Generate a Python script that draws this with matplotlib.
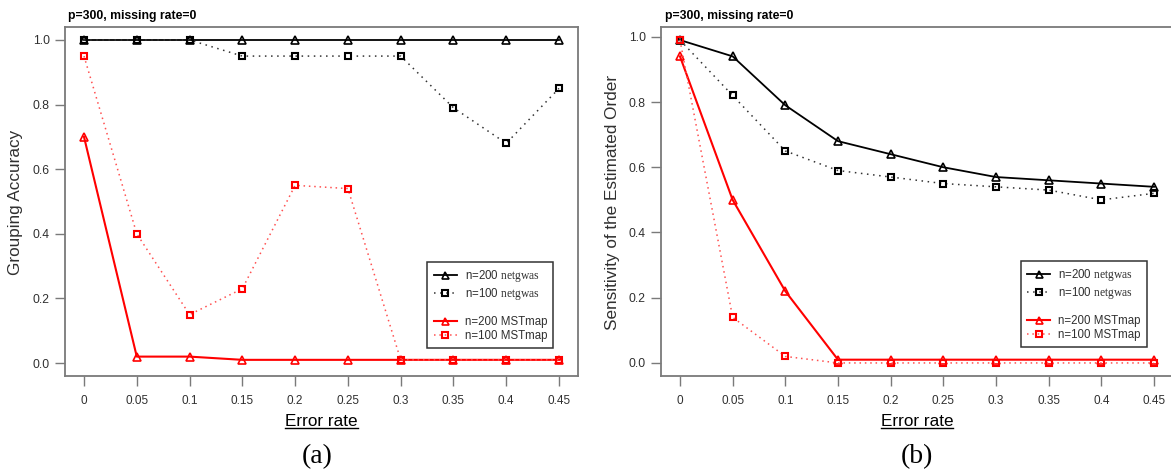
import matplotlib
matplotlib.use("Agg")
import matplotlib.pyplot as plt
from matplotlib.lines import Line2D

plt.rcParams['font.family'] = ['Liberation Sans', 'DejaVu Sans']
plt.rcParams['mathtext.fontset'] = 'custom'
plt.rcParams['mathtext.rm'] = 'Liberation Serif'

# ---------------- data ----------------
error_rate = [0, 0.05, 0.1, 0.15, 0.2, 0.25, 0.3, 0.35, 0.4, 0.45]
xtick_labels = ["0", "0.05", "0.1", "0.15", "0.2", "0.25", "0.3", "0.35", "0.4", "0.45"]
ytick_vals = [0.0, 0.2, 0.4, 0.6, 0.8, 1.0]

# (a) Grouping accuracy
a_n200_netgwas = [1.00, 1.00, 1.00, 1.00, 1.00, 1.00, 1.00, 1.00, 1.00, 1.00]
a_n100_netgwas = [1.00, 1.00, 1.00, 0.95, 0.95, 0.95, 0.95, 0.79, 0.68, 0.85]
a_n200_mstmap = [0.70, 0.02, 0.02, 0.01, 0.01, 0.01, 0.01, 0.01, 0.01, 0.01]
a_n100_mstmap = [0.95, 0.40, 0.15, 0.23, 0.55, 0.54, 0.01, 0.01, 0.01, 0.01]

# (b) Sensitivity of the estimated order
b_n200_netgwas = [0.99, 0.94, 0.79, 0.68, 0.64, 0.60, 0.57, 0.56, 0.55, 0.54]
b_n100_netgwas = [0.99, 0.82, 0.65, 0.59, 0.57, 0.55, 0.54, 0.53, 0.50, 0.52]
b_n200_mstmap = [0.94, 0.50, 0.22, 0.01, 0.01, 0.01, 0.01, 0.01, 0.01, 0.01]
b_n100_mstmap = [0.99, 0.14, 0.02, 0.00, 0.00, 0.00, 0.00, 0.00, 0.00, 0.00]

labels = [r"n=200 $\mathrm{netgwas}$", r"n=100 $\mathrm{netgwas}$", " ",
          "n=200 MSTmap", "n=100 MSTmap"]

title_txt = "p=300, missing rate=0"
xlabel_txt = "Error rate"
ylabels = ["Grouping Accuracy", "Sensitivity of the Estimated Order"]
panel_tags = ["(a)", "(b)"]

# ---------------- figure ----------------
W, H = 1171, 476
fig = plt.figure(figsize=(W / 100, H / 100), dpi=100)

def fx(px):
    return px / W

def fy(py):
    return 1 - py / H

ax_a = fig.add_axes([fx(65), fy(376), fx(578 - 65), (376 - 27) / H])
ax_b = fig.add_axes([fx(661), fy(376), fx(1173 - 661), (376 - 27) / H])

spine_col = '#7a7a7a'
text_col = '#303030'

def style(ax, ylim):
    ax.set_xlim(-0.018, 0.468)
    ax.set_ylim(*ylim)
    ax.set_xticks(error_rate)
    ax.set_xticklabels(xtick_labels)
    ax.set_yticks(ytick_vals)
    ax.set_yticklabels([f"{v:.1f}" for v in ytick_vals])
    for s in ax.spines.values():
        s.set_color(spine_col)
        s.set_linewidth(1.3)
    ax.tick_params(axis='x', direction='out', length=7, width=1, color=spine_col,
                   labelsize=8.5, labelcolor=text_col, pad=7)
    ax.tick_params(axis='y', direction='out', length=7, width=1, color=spine_col,
                   labelsize=8.7, labelcolor=text_col, pad=4)

def draw(ax, s1, s2, s3, s4):
    h1, = ax.plot(error_rate, s1, color='black', lw=1.3, marker='^', ms=6.3,
                  mfc='none', mec='black', mew=1.2)
    h2, = ax.plot(error_rate, s2, color='#333333', lw=1.1, ls=(0, (1, 3)),
                  marker='s', ms=5, mfc='none', mec='black', mew=1.5)
    h3, = ax.plot(error_rate, s3, color='red', lw=1.5, marker='^', ms=6.3,
                  mfc='none', mec='red', mew=1.2)
    h4, = ax.plot(error_rate, s4, color='#ff5050', lw=1.1, ls=(0, (1, 2.5)),
                  marker='s', ms=5, mfc='none', mec='red', mew=1.5)
    blank = Line2D([], [], ls='none', marker='none')
    return [h1, h2, blank, h3, h4]

style(ax_a, (-0.04, 1.04))
style(ax_b, (-0.04, 1.03))

hs_a = draw(ax_a, a_n200_netgwas, a_n100_netgwas, a_n200_mstmap, a_n100_mstmap)
hs_b = draw(ax_b, b_n200_netgwas, b_n100_netgwas, b_n200_mstmap, b_n100_mstmap)

for ax, hs, anchor in [(ax_a, hs_a, (0.706, 0.080)), (ax_b, hs_b, (0.703, 0.083))]:
    leg = ax.legend(hs, labels, loc='lower left', bbox_to_anchor=anchor,
                    borderaxespad=0, fontsize=8.3, frameon=True, fancybox=False,
                    edgecolor='#333333', framealpha=1, handlelength=2.0,
                    handletextpad=0.7, labelspacing=0.12, borderpad=0.55,
                    markerscale=0.8, labelcolor=text_col)
    leg.get_frame().set_linewidth(1.1)

# titles
fig.text(fx(68), fy(16), title_txt, fontsize=8.8, fontweight='bold',
         color='black', ha='left', va='center')
fig.text(fx(665), fy(16), title_txt, fontsize=8.8, fontweight='bold',
         color='black', ha='left', va='center')

# y labels
fig.text(fx(16), fy(202), ylabels[0], rotation=90, fontsize=12.3, color=text_col,
         ha='center', va='center')
fig.text(fx(612), fy(202), ylabels[1], rotation=90, fontsize=12.3, color=text_col,
         ha='center', va='center')

# x labels (underlined) and panel tags
xl_texts = []
for cx in [(65 + 578) / 2, (661 + 1173) / 2]:
    t = fig.text(fx(cx), fy(421), xlabel_txt, fontsize=12.3, color='black',
                 ha='center', va='center')
    xl_texts.append(t)
for cx, tag in zip([(65 + 578) / 2 - 4, (661 + 1173) / 2], panel_tags):
    fig.text(fx(cx), fy(457), tag, fontsize=20, color='black',
             family='Liberation Serif', ha='center', va='center')

fig.canvas.draw()
r = fig.canvas.get_renderer()
for t in xl_texts:
    bb = t.get_window_extent(renderer=r)
    y_line = bb.y0 + 0.5
    fig.add_artist(Line2D([bb.x0 / W, bb.x1 / W], [y_line / H, y_line / H],
                          transform=fig.transFigure, color='black', lw=1.0))

fig.savefig("out.png", dpi=100)
